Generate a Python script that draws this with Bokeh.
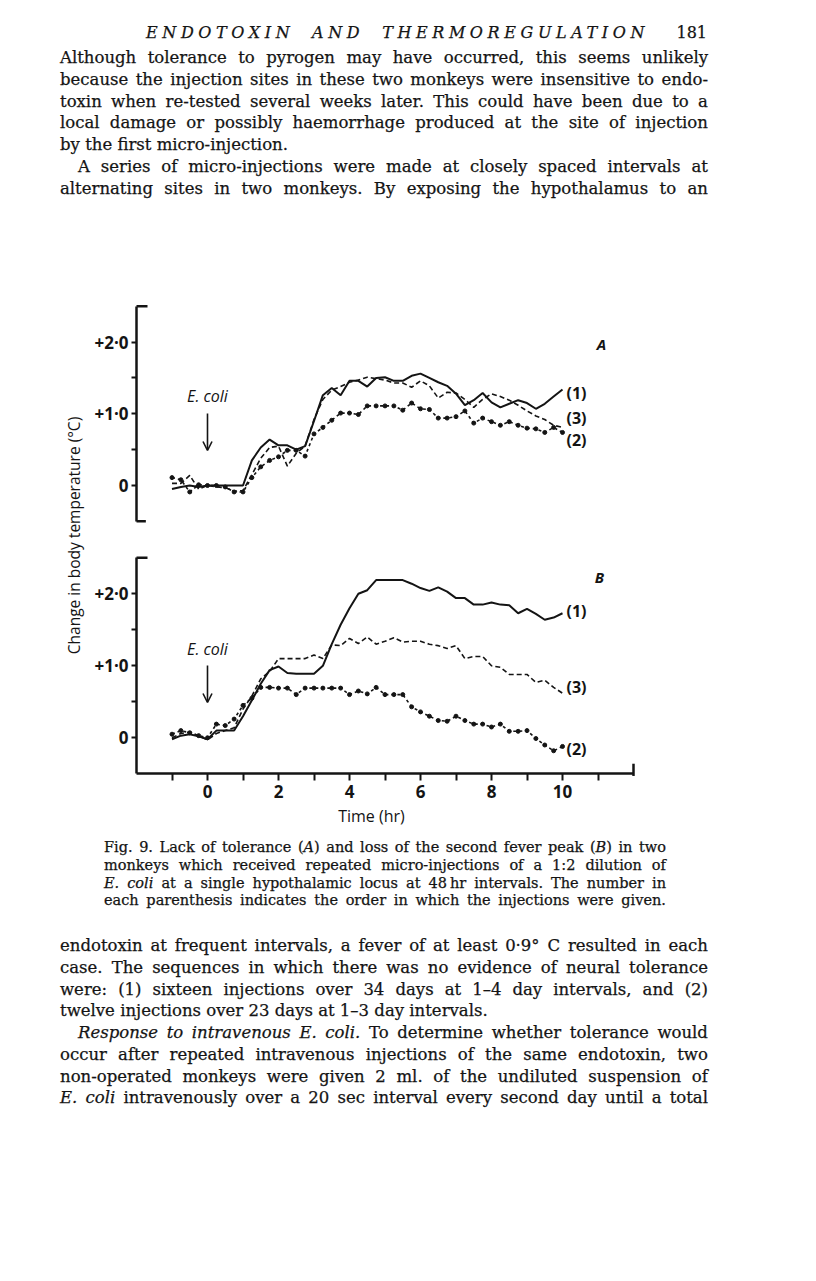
import math
from bokeh.plotting import figure
from bokeh.models import (Range1d, LinearAxis, FixedTicker, Label, Arrow, OpenHead,
                          Div, CustomJSTickFormatter)
from bokeh.layouts import column
from bokeh.embed import file_html
from bokeh.resources import INLINE

# ---------------- data ----------------
times = [-1.0, -0.75, -0.5, -0.25, 0.0, 0.25, 0.5, 0.75, 1.0,
         1.25, 1.5, 1.75, 2.0, 2.25, 2.5, 2.75, 3.0,
         3.25, 3.5, 3.75, 4.0, 4.25, 4.5, 4.75, 5.0,
         5.25, 5.5, 5.75, 6.0, 6.25, 6.5, 6.75, 7.0,
         7.25, 7.5, 7.75, 8.0, 8.25, 8.5, 8.75, 9.0,
         9.25, 9.5, 9.75, 10.0]

# Panel A
a_inj1 = [-0.05, -0.02, 0.0, -0.02, 0.0, 0.0, 0.0, 0.0, 0.0,
          0.35, 0.53, 0.64, 0.56, 0.56, 0.50, 0.55, 0.90,
          1.26, 1.36, 1.26, 1.46, 1.46, 1.38, 1.50, 1.51,
          1.46, 1.46, 1.53, 1.56, 1.50, 1.44, 1.39, 1.28,
          1.12, 1.19, 1.29, 1.16, 1.09, 1.14, 1.19, 1.15,
          1.07, 1.14, 1.24, 1.34]
a_inj2 = [0.11, 0.08, -0.09, 0.01, 0.0, 0.0, -0.02, -0.09, -0.09,
          0.11, 0.26, 0.35, 0.40, 0.49, 0.49, 0.41, 0.72,
          0.81, 0.91, 1.01, 1.01, 0.99, 1.11, 1.11, 1.11,
          1.11, 1.05, 1.15, 1.07, 1.06, 0.94, 0.94, 0.96,
          1.04, 0.87, 0.94, 0.89, 0.84, 0.89, 0.84, 0.80,
          0.79, 0.74, 0.81, 0.74]
a_inj3 = [0.03, 0.03, 0.14, -0.05, 0.0, -0.02, -0.03, -0.08, -0.07,
          0.15, 0.38, 0.53, 0.55, 0.27, 0.45, 0.55, 0.92,
          1.20, 1.33, 1.38, 1.44, 1.47, 1.51, 1.49, 1.47,
          1.43, 1.43, 1.37, 1.46, 1.39, 1.22, 1.30, 1.29,
          1.20, 1.09, 1.20, 1.28, 1.24, 1.19, 1.12, 1.04,
          0.97, 0.92, 0.84, 0.81]

# Panel B
b_inj1 = [-0.02, 0.03, 0.05, 0.02, -0.02, 0.10, 0.10, 0.10, 0.30,
          0.52, 0.75, 0.94, 0.99, 0.90, 0.89, 0.89, 0.89,
          1.00, 1.30, 1.57, 1.80, 2.00, 2.05, 2.19, 2.19,
          2.19, 2.19, 2.14, 2.08, 2.04, 2.09, 2.03, 1.94,
          1.94, 1.85, 1.85, 1.88, 1.85, 1.84, 1.73, 1.79,
          1.72, 1.64, 1.67, 1.73]
b_inj2 = [0.05, 0.10, 0.07, 0.03, 0.0, 0.19, 0.17, 0.26, 0.45,
          0.55, 0.70, 0.70, 0.69, 0.69, 0.60, 0.69, 0.69,
          0.69, 0.69, 0.69, 0.60, 0.65, 0.61, 0.70, 0.60,
          0.60, 0.60, 0.43, 0.36, 0.30, 0.24, 0.23, 0.30,
          0.24, 0.19, 0.19, 0.15, 0.19, 0.09, 0.09, 0.10,
          -0.01, -0.10, -0.18, -0.12]
b_inj3 = [0.0, 0.06, 0.08, 0.03, -0.03, 0.06, 0.10, 0.14, 0.40,
          0.58, 0.82, 0.92, 1.10, 1.10, 1.10, 1.10, 1.15,
          1.10, 1.29, 1.28, 1.38, 1.31, 1.40, 1.30, 1.34,
          1.39, 1.33, 1.34, 1.34, 1.30, 1.28, 1.24, 1.28,
          1.10, 1.13, 1.13, 1.00, 0.98, 0.88, 0.88, 0.88,
          0.77, 0.80, 0.70, 0.62]

series_labels = ["(1)", "(2)", "(3)"]
x_major_ticks = [0, 2, 4, 6, 8, 10]
x_minor_ticks = [-1, 1, 3, 5, 7, 9, 11]
y_major_ticks = [0, 1, 2]
y_minor_ticks = [0.5, 1.5]

# ---------------- page text ----------------
header_title = "ENDOTOXIN AND THERMOREGULATION"
header_page = "181"
top_lines = [
    "Although tolerance to pyrogen may have occurred, this seems unlikely",
    "because the injection sites in these two monkeys were insensitive to endo-",
    "toxin when re-tested several weeks later. This could have been due to a",
    "local damage or possibly haemorrhage produced at the site of injection",
    "by the first micro-injection.",
    "A series of micro-injections were made at closely spaced intervals at",
    "alternating sites in two monkeys. By exposing the hypothalamus to an",
]
caption_lines = [
    "Fig. 9. Lack of tolerance (<i>A</i>) and loss of the second fever peak (<i>B</i>) in two",
    "monkeys which received repeated micro-injections of a 1:2 dilution of",
    "<i>E.</i> <i>coli</i> at a single hypothalamic locus at 48\u2009hr intervals. The number in",
    "each parenthesis indicates the order in which the injections were given.",
]
bottom_lines = [
    "endotoxin at frequent intervals, a fever of at least 0\u00b79\u00b0 C resulted in each",
    "case. The sequences in which there was no evidence of neural tolerance",
    "were: (1) sixteen injections over 34 days at 1\u20134 day intervals, and (2)",
    "twelve injections over 23 days at 1\u20133 day intervals.",
    "<i>Response</i> <i>to</i> <i>intravenous</i> <i>E.</i> <i>coli.</i> To determine whether tolerance would",
    "occur after repeated intravenous injections of the same endotoxin, two",
    "non-operated monkeys were given 2 ml. of the undiluted suspension of",
    "<i>E.</i> <i>coli</i> intravenously over a 20 sec interval every second day until a total",
]

# ---------------- layout constants (page pixels) ----------------
INK = "#141414"
SERIF = "'DejaVu Serif', serif"
PAGE_W = 816
TOP_DIV_H = 290          # page y 0 .. 290
FIG_H = 540              # page y 290 .. 830
BOT_DIV_H = 1281 - TOP_DIV_H - FIG_H
FIG_TOP = TOP_DIV_H
BOT_TOP = FIG_TOP + FIG_H

X0, PXH = 207.0, 35.5           # page x of t=0, px per hour
A0, APX = 485.0, 71.7           # page y of 0 in panel A, px per degree
B0, BPX = 737.3, 72.0           # page y of 0 in panel B, px per degree


def tx(px):
    return (px - X0) / PXH


def ya(py):
    return (A0 - py) / APX


def yb(py):
    return (B0 - py) / BPX


def line_div(text, left, right, cy, div_top, size, lh, justify):
    top = cy - div_top - lh / 2
    base = (f"position:absolute;left:{left}px;top:{top}px;height:{lh}px;"
            f"line-height:{lh}px;font-family:{SERIF};font-size:{size}px;color:{INK};"
            f"white-space:nowrap;-webkit-text-stroke:0.25px {INK};")
    if justify:
        words = text.split(" ")
        spans = "".join(f"<span>{w}</span>" for w in words)
        return (f'<div style="{base}width:{right - left}px;display:flex;'
                f'justify-content:space-between;">{spans}</div>')
    return f'<div style="{base}">{text}</div>'


# top text block
top_html = []
top_html.append(
    f'<div style="position:absolute;left:146px;top:{33 - 11}px;width:{649 - 146}px;'
    f'height:22px;line-height:22px;display:flex;justify-content:space-between;'
    f'font-family:{SERIF};font-style:italic;font-size:16px;letter-spacing:4.6px;color:{INK};'
    f'-webkit-text-stroke:0.25px {INK};">'
    + "".join(f"<span>{w}</span>" for w in header_title.split(" ")) + "</div>")
top_html.append(
    f'<div style="position:absolute;left:666px;top:{33 - 11}px;width:{707 - 666}px;'
    f'height:22px;line-height:22px;text-align:right;font-family:{SERIF};font-size:16px;'
    f'color:{INK};-webkit-text-stroke:0.25px {INK};">{header_page}</div>')
top_specs = [(60, 708, 57, True), (60, 708, 79, True), (60, 708, 101, True),
             (60, 708, 122, True), (60, 708, 144, False), (78, 708, 166, True),
             (60, 708, 188, True)]
for txt, (l, r, cy, j) in zip(top_lines, top_specs):
    top_html.append(line_div(txt, l, r, cy, 0, 16.5, 21, j))
top_div = Div(text=f'<div style="position:relative;width:{PAGE_W}px;height:{TOP_DIV_H}px;">'
              + "".join(top_html) + "</div>",
              width=PAGE_W, height=TOP_DIV_H, margin=0)

bot_html = []
cap_specs = [(104, 666, 847), (104, 666, 865), (104, 666, 883), (104, 666, 900)]
for txt, (l, r, cy) in zip(caption_lines, cap_specs):
    bot_html.append(line_div(txt, l, r, cy, BOT_TOP, 14.5, 18, True))
bot_specs = [(60, 708, 945, True), (60, 708, 967, True), (60, 708, 989, True),
             (60, 708, 1010, False), (78, 708, 1032, True), (60, 708, 1054, True),
             (60, 708, 1076, True), (60, 708, 1097, True)]
for txt, (l, r, cy, j) in zip(bottom_lines, bot_specs):
    bot_html.append(line_div(txt, l, r, cy, BOT_TOP, 16.5, 21, j))
bot_div = Div(text=f'<div style="position:relative;width:{PAGE_W}px;height:{BOT_DIV_H}px;">'
              + "".join(bot_html) + "</div>",
              width=PAGE_W, height=BOT_DIV_H, margin=0)

# ---------------- chart ----------------
p = figure(width=PAGE_W, height=FIG_H, output_backend="svg", toolbar_location=None,
           title=None, x_axis_type=None, y_axis_type=None,
           x_range=Range1d(tx(0), tx(PAGE_W)),
           y_range=Range1d(yb(BOT_TOP), yb(FIG_TOP)),
           min_border_left=0, min_border_right=0, min_border_top=0, min_border_bottom=0,
           outline_line_color=None, background_fill_color="white",
           border_fill_color="white", margin=0)
p.extra_y_ranges = {"A": Range1d(ya(BOT_TOP), ya(FIG_TOP))}

fmt = CustomJSTickFormatter(code="""
if (tick == 0) { return '0'; }
return '+' + tick.toFixed(1).replace('.', '\u00b7');
""")

axis_style = dict(axis_line_width=2.5, axis_line_color=INK,
                  major_tick_in=0, minor_tick_in=0,
                  major_tick_line_width=2, minor_tick_line_width=2,
                  major_tick_line_color=INK, minor_tick_line_color=INK,
                  major_label_text_font="Open Sans", major_label_text_font_style="bold",
                  major_label_text_font_size="17px", major_label_text_color=INK)

ax_b_left = LinearAxis(fixed_location=-2.0, bounds=(-0.5, 2.5),
                       ticker=FixedTicker(ticks=y_major_ticks, minor_ticks=y_minor_ticks),
                       formatter=fmt, major_tick_out=5, minor_tick_out=5,
                       major_label_standoff=3, **axis_style)
p.add_layout(ax_b_left, "left")

ax_a_left = LinearAxis(y_range_name="A", fixed_location=-2.0, bounds=(-0.5, 2.5),
                       ticker=FixedTicker(ticks=y_major_ticks, minor_ticks=y_minor_ticks),
                       formatter=fmt, major_tick_out=5, minor_tick_out=5,
                       major_label_standoff=3, **axis_style)
p.add_layout(ax_a_left, "left")

ax_b_bottom = LinearAxis(fixed_location=-0.5, bounds=(-2, 12),
                         ticker=FixedTicker(ticks=x_major_ticks, minor_ticks=x_minor_ticks),
                         major_tick_out=7, minor_tick_out=7, major_label_standoff=4,
                         **axis_style)
p.add_layout(ax_b_bottom, "below")

# bracket caps of the axes
cap = 11 / PXH
p.segment(x0=[-2, -2], y0=[2.5, -0.5], x1=[-2 + cap, -2 + cap * 0.85], y1=[2.5, -0.5],
          y_range_name="A", line_width=2.5, line_color=INK)
p.segment(x0=[-2], y0=[2.5], x1=[-2 + cap], y1=[2.5], line_width=2.5, line_color=INK)
p.segment(x0=[12], y0=[-0.53], x1=[12], y1=[-0.36], line_width=2.5, line_color=INK)

# series
for rng, s1, s2, s3 in (("A", a_inj1, a_inj2, a_inj3), ("default", b_inj1, b_inj2, b_inj3)):
    p.line(times, s1, y_range_name=rng, line_width=2.0, line_color=INK)
    p.line(times, s3, y_range_name=rng, line_width=1.6, line_color=INK, line_dash="5 3")
    p.line(times, s2, y_range_name=rng, line_width=1.6, line_color=INK, line_dash="3 3")
    p.scatter(times, s2, y_range_name=rng, size=4, marker="circle",
              fill_color=INK, line_color=INK)

lab_font = dict(text_font="Open Sans", text_font_style="bold", text_font_size="16px",
                text_color=INK, text_baseline="middle", text_align="left")
for rng, pys, fy in (("A", (392, 439, 417), ya), ("default", (610.7, 748, 686.7), yb)):
    for lab, py in zip(series_labels, pys):
        p.add_layout(Label(x=tx(566), y=fy(py), y_range_name=rng, text=lab, **lab_font))

panel_font = dict(text_font="Open Sans", text_font_style="bold italic",
                  text_font_size="15px", text_color=INK, text_baseline="middle",
                  text_align="center")
p.add_layout(Label(x=tx(601), y=ya(343), y_range_name="A", text="A", **panel_font))
p.add_layout(Label(x=tx(599), y=yb(576), text="B", **panel_font))

# E. coli markers
for rng, fy, ty, y1, y2 in (("A", ya, 395, 413, 450), ("default", yb, 648, 665, 702)):
    p.add_layout(Label(x=0, y=fy(ty), y_range_name=rng, text="E. coli",
                       text_font="Open Sans", text_font_style="italic",
                       text_font_size="16px", text_color=INK,
                       text_align="center", text_baseline="middle"))
    p.add_layout(Arrow(x_start=0, y_start=fy(y1), x_end=0, y_end=fy(y2), y_range_name=rng,
                       line_width=1.6, line_color=INK,
                       end=OpenHead(size=9, line_width=1.6, line_color=INK)))

# axis titles
p.add_layout(Label(x=tx(371), y=yb(815), text="Time (hr)", text_font="Open Sans",
                   text_font_size="16px", text_color=INK, text_align="center",
                   text_baseline="middle"))
p.add_layout(Label(x=tx(73), y=yb(535), text="Change in body temperature (\u00b0C)",
                   angle=math.pi / 2, text_font="Open Sans", text_font_size="15.5px",
                   text_color=INK, text_align="center", text_baseline="middle"))

page = column(top_div, p, bot_div, spacing=0, margin=0)
open("out.html", "w").write(file_html(page, INLINE))
